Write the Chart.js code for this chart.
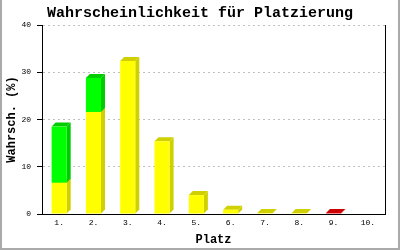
<!DOCTYPE html>
<html>
<head>
<meta charset="utf-8">
<script src="https://cdn.jsdelivr.net/npm/chart.js@4/dist/chart.umd.min.js"></script>
<style>
  html, body { margin: 0; padding: 0; background: #ffffff; }
  #wrap { width: 400px; height: 250px; position: relative; }
</style>
</head>
<body>
<div id="wrap"><canvas id="c"></canvas></div>
<script>
// ---- data ----
const categories = ["1.", "2.", "3.", "4.", "5.", "6.", "7.", "8.", "9.", "10."];
const yellowValues = [6.6, 21.6, 32.4, 15.4, 4.0, 0.9, 0.2, 0.2, 0, 0];
const greenValues  = [11.9, 7.2, 0, 0, 0, 0, 0, 0, 0, 0];
const redValues    = [0, 0, 0, 0, 0, 0, 0, 0, 0.2, 0];
const yTicks = [0, 10, 20, 30, 40];

const chartTitle = "Wahrscheinlichkeit für Platzierung";
const yTitle = "Wahrsch. (%)";
const xTitle = "Platz";

const DEPTH = 4;
const FONT = "'Liberation Mono', 'DejaVu Sans Mono', monospace";

const bars3d = {
  id: 'bars3d',
  beforeDatasetsDraw(chart) {
    const ctx = chart.ctx;
    ctx.save();
    chart.data.datasets.forEach((ds, di) => {
      const meta = chart.getDatasetMeta(di);
      meta.data.forEach((bar, i) => {
        if (!ds.data[i]) return;
        const p = bar.getProps(['x', 'y', 'base', 'width'], true);
        const l = p.x - p.width / 2, r = p.x + p.width / 2;
        ctx.fillStyle = ds.sideColor;
        ctx.beginPath();
        ctx.moveTo(r, p.y);
        ctx.lineTo(r + DEPTH, p.y - DEPTH);
        ctx.lineTo(r + DEPTH, p.base - DEPTH);
        ctx.lineTo(r, p.base);
        ctx.closePath();
        ctx.fill();
        ctx.beginPath();
        ctx.moveTo(l, p.y);
        ctx.lineTo(l + DEPTH, p.y - DEPTH);
        ctx.lineTo(r + DEPTH, p.y - DEPTH);
        ctx.lineTo(r, p.y);
        ctx.closePath();
        ctx.fill();
      });
    });
    ctx.restore();
  },
  afterDraw(chart) {
    const ctx = chart.ctx;
    ctx.save();
    // outer frame
    ctx.fillStyle = '#aaaaaa';
    ctx.fillRect(0, 0, 2, 250);
    ctx.fillRect(398, 0, 2, 250);
    ctx.fillRect(0, 248, 400, 2);
    ctx.restore();
  }
};

new Chart(document.getElementById('c'), {
  type: 'bar',
  data: {
    labels: categories,
    datasets: [
      { data: yellowValues, backgroundColor: '#ffff00', sideColor: '#d0d000' },
      { data: greenValues, backgroundColor: '#00ff00', sideColor: '#00cc00' },
      { data: redValues, backgroundColor: '#ff0000', sideColor: '#cc0000' }
    ]
  },
  options: {
    responsive: true,
    maintainAspectRatio: false,
    animation: false,
    devicePixelRatio: 1,
    datasets: { bar: { categoryPercentage: 1, barPercentage: 0.44, borderWidth: 0 } },
    layout: { padding: { left: 2, right: 2, top: 0, bottom: 3 } },
    plugins: {
      legend: { display: false },
      tooltip: { enabled: false },
      title: {
        display: true,
        text: chartTitle,
        color: '#000000',
        font: { family: FONT, size: 15, weight: 'bold', lineHeight: 1.2 },
        padding: { top: 4, bottom: 3 }
      }
    },
    scales: {
      x: {
        stacked: true,
        grid: { display: false, drawTicks: false },
        border: { display: true, color: '#000000', width: 1 },
        ticks: { color: '#000000', font: { family: FONT, size: 8 }, padding: 4, maxRotation: 0, autoSkip: false },
        title: { display: true, text: xTitle, color: '#000000', font: { family: FONT, size: 12, weight: 'bold', lineHeight: 1.2 }, padding: 0 },
        afterFit(s) { s.height = 33; }
      },
      y: {
        stacked: true,
        min: 0, max: 40,
        afterBuildTicks(s) { s.ticks = yTicks.map(v => ({ value: v })); },
        grid: {
          color: (c) => (c.tick && c.tick.value === 0) ? 'rgba(0,0,0,0)' : '#c0c0c0',
          tickColor: '#000000',
          tickLength: 5,
          tickBorderDash: [],
          lineWidth: 1
        },
        border: { display: true, color: '#000000', width: 1, dash: [2, 3] },
        ticks: { color: '#000000', font: { family: FONT, size: 8 }, padding: 6 },
        title: { display: true, text: yTitle, color: '#000000', font: { family: FONT, size: 12, weight: 'bold', lineHeight: 1.2 }, padding: 3 },
        afterFit(s) { s.width = 40; }
      },
      y2: {
        position: 'right',
        min: 0, max: 40,
        grid: { display: false, drawTicks: false },
        border: { display: true, color: '#000000', width: 1 },
        ticks: { display: false },
        afterFit(s) { s.width = 13; }
      }
    }
  },
  plugins: [bars3d]
});
</script>
</body>
</html>
